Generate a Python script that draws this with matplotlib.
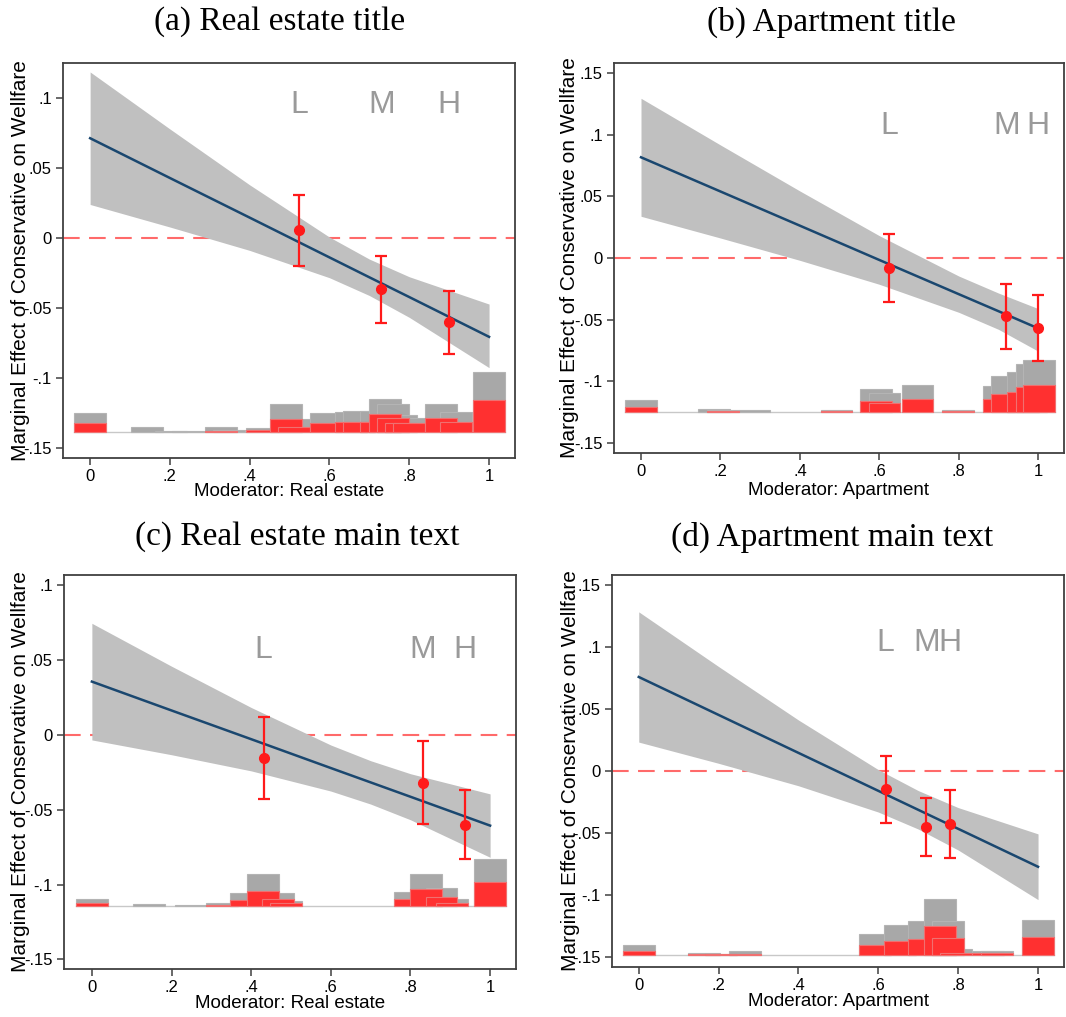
import matplotlib
matplotlib.use("Agg")
import matplotlib.pyplot as plt
import numpy as np

# ---------------- data ----------------
titles = ["(a) Real estate title", "(b) Apartment title",
          "(c) Real estate main text", "(d) Apartment main text"]
xlabels = ["Moderator: Real estate", "Moderator: Apartment",
           "Moderator: Real estate", "Moderator: Apartment"]
ylabel = "Marginal Effect of Conservative on Wellfare"
xticks = [0, 0.2, 0.4, 0.6, 0.8, 1.0]
yticks_a = [-0.15, -0.1, -0.05, 0, 0.05, 0.1]
yticks_b = [-0.15, -0.1, -0.05, 0, 0.05, 0.1, 0.15]
yticks_c = [-0.15, -0.1, -0.05, 0, 0.05, 0.1]
yticks_d = [-0.15, -0.1, -0.05, 0, 0.05, 0.1, 0.15]
bin_labels = ["L", "M", "H"]

# marginal effect line and 95% band
a_grid = [0, 0.2, 0.4, 0.6, 0.7, 0.8, 1.0]
a_line = [0.0713, 0.0429, 0.0146, -0.0138, -0.0280, -0.0421, -0.0705]
a_hi = [0.1186, 0.0779, 0.0380, 0.0007, -0.0150, -0.0276, -0.0471]
a_lo = [0.0240, 0.0079, -0.0088, -0.0283, -0.0410, -0.0566, -0.0925]

b_grid = [0, 0.2, 0.4, 0.6, 0.8, 0.9, 1.0]
b_line = [0.0816, 0.0539, 0.0262, -0.0016, -0.0293, -0.0431, -0.0570]
b_hi = [0.1294, 0.0916, 0.0543, 0.0181, -0.0146, -0.0284, -0.0410]
b_lo = [0.0338, 0.0162, -0.0019, -0.0213, -0.0440, -0.0578, -0.0755]

c_grid = [0, 0.2, 0.4, 0.6, 0.7, 0.8, 1.0]
c_line = [0.0357, 0.0164, -0.0028, -0.0221, -0.0317, -0.0413, -0.0606]
c_hi = [0.0747, 0.0460, 0.0184, -0.0067, -0.0172, -0.0259, -0.0394]
c_lo = [-0.0033, -0.0132, -0.0240, -0.0375, -0.0462, -0.0567, -0.0818]

d_grid = [0, 0.2, 0.4, 0.6, 0.7, 0.8, 1.0]
d_line = [0.0758, 0.0452, 0.0146, -0.0160, -0.0313, -0.0466, -0.0772]
d_hi = [0.1283, 0.0842, 0.0411, 0.0011, -0.0158, -0.0295, -0.0507]
d_lo = [0.0233, 0.0062, -0.0119, -0.0331, -0.0468, -0.0637, -0.1037]

# binned estimates (L, M, H)
a_pt_x = [0.524, 0.730, 0.900]
a_pt_y = [0.0060, -0.0362, -0.0599]
a_pt_hi = [0.0311, -0.0131, -0.0380]
a_pt_lo = [-0.0196, -0.0604, -0.0827]

b_pt_x = [0.625, 0.920, 1.000]
b_pt_y = [-0.0081, -0.0470, -0.0568]
b_pt_hi = [0.0191, -0.0211, -0.0303]
b_pt_lo = [-0.0357, -0.0738, -0.0833]

c_pt_x = [0.431, 0.831, 0.936]
c_pt_y = [-0.0152, -0.0319, -0.0602]
c_pt_hi = [0.0123, -0.0040, -0.0366]
c_pt_lo = [-0.0430, -0.0598, -0.0832]

d_pt_x = [0.618, 0.720, 0.779]
d_pt_y = [-0.0145, -0.0452, -0.0430]
d_pt_hi = [0.0124, -0.0218, -0.0156]
d_pt_lo = [-0.0419, -0.0688, -0.0704]

label_y = [0.095, 0.107, 0.057, 0.103]

# histograms of the moderator (grey = all, red = treated)
a_hist_base = -0.1383
a_hist_x = [0.000, 0.143, 0.203, 0.245, 0.327, 0.349, 0.430, 0.491, 0.512, 0.591,
            0.654, 0.675, 0.717, 0.738, 0.759, 0.779, 0.800, 0.880, 0.917, 1.000]
a_hist_grey = [0.0131, 0.0031, 0.0007, 0.0005, 0.0031, 0.0012, 0.0024, 0.0195, 0.0088, 0.0136,
               0.0143, 0.0148, 0.0148, 0.0233, 0.0198, 0.0119, 0.0102, 0.0202, 0.0140, 0.0426]
a_hist_red = [0.0060, 0.0, 0.0, 0.0, 0.0007, 0.0, 0.0012, 0.0093, 0.0036, 0.0064,
              0.0067, 0.0067, 0.0067, 0.0124, 0.0102, 0.0060, 0.0060, 0.0102, 0.0071, 0.0226]

b_hist_base = -0.1244
b_hist_x = [0.000, 0.183, 0.206, 0.286, 0.492, 0.592, 0.613, 0.696, 0.798, 0.901,
            0.922, 0.962, 0.983, 1.003]
b_hist_grey = [0.0092, 0.0019, 0.0014, 0.0016, 0.0016, 0.0181, 0.0154, 0.0214, 0.0011, 0.0203,
               0.0284, 0.0319, 0.0387, 0.0414]
b_hist_red = [0.0038, 0.0, 0.0008, 0.0, 0.0008, 0.0087, 0.0068, 0.0100, 0.0005, 0.0100,
              0.0141, 0.0162, 0.0195, 0.0211]

c_hist_base = -0.1144
c_hist_x = [0.000, 0.143, 0.248, 0.327, 0.387, 0.429, 0.467, 0.488, 0.798, 0.838,
            0.878, 0.905, 1.000]
c_hist_grey = [0.0049, 0.0011, 0.0004, 0.0018, 0.0089, 0.0212, 0.0089, 0.0036, 0.0091, 0.0212,
               0.0123, 0.0045, 0.0312]
c_hist_red = [0.0022, 0.0, 0.0, 0.0009, 0.0040, 0.0100, 0.0045, 0.0018, 0.0045, 0.0111,
              0.0058, 0.0018, 0.0163]

d_hist_base = -0.1487
d_hist_x = [0.000, 0.164, 0.205, 0.265, 0.591, 0.654, 0.714, 0.754, 0.775, 0.795,
            0.875, 0.897, 1.000]
d_hist_grey = [0.0081, 0.0019, 0.0013, 0.0032, 0.0175, 0.0242, 0.0274, 0.0457, 0.0274, 0.0051,
               0.0038, 0.0038, 0.0285]
d_hist_red = [0.0040, 0.0008, 0.0008, 0.0008, 0.0083, 0.0116, 0.0134, 0.0237, 0.0142, 0.0019,
              0.0016, 0.0016, 0.0145]

# ---------------- layout / style ----------------
W, H = 1066, 1017
boxes = [(63, 63, 515, 458), (614, 63, 1064, 453), (64, 575, 516, 969), (612, 575, 1064, 967)]
xlims = [(-0.068, 1.065), (-0.068, 1.065), (-0.070, 1.065), (-0.067, 1.065)]
ylims = [(-0.157, 0.125), (-0.158, 0.158), (-0.1565, 0.107), (-0.158, 0.158)]
title_pos = [(280, 22), (831, 22), (297, 537), (832, 537)]
xlabel_y = [-0.064, -0.075, -0.067, -0.067]
ylabel_x = [-0.072, -0.078, -0.075, -0.071]

BAND = "#c0c0c0"
LINE = "#1a476f"
PT = "#ff1a1a"
HGREY = "#a8a8a8"
HRED = "#ff3030"
FRAME = "#404040"
BIN_W = 0.08

panels = [
    (a_grid, a_line, a_hi, a_lo, a_pt_x, a_pt_y, a_pt_hi, a_pt_lo,
     a_hist_base, a_hist_x, a_hist_grey, a_hist_red, yticks_a),
    (b_grid, b_line, b_hi, b_lo, b_pt_x, b_pt_y, b_pt_hi, b_pt_lo,
     b_hist_base, b_hist_x, b_hist_grey, b_hist_red, yticks_b),
    (c_grid, c_line, c_hi, c_lo, c_pt_x, c_pt_y, c_pt_hi, c_pt_lo,
     c_hist_base, c_hist_x, c_hist_grey, c_hist_red, yticks_c),
    (d_grid, d_line, d_hi, d_lo, d_pt_x, d_pt_y, d_pt_hi, d_pt_lo,
     d_hist_base, d_hist_x, d_hist_grey, d_hist_red, yticks_d),
]


def fmt(v):
    if abs(v) < 1e-12:
        return "0"
    s = f"{v:g}"
    return s.replace("0.", ".")


plt.rcParams["font.family"] = ["Liberation Sans", "DejaVu Sans"]
fig = plt.figure(figsize=(W / 100, H / 100), dpi=100)

for i, (grid, line, hi, lo, px, py, phi, plo, base, hx, hg, hr, yt) in enumerate(panels):
    l, t, r, b = boxes[i]
    ax = fig.add_axes([l / W, 1 - b / H, (r - l) / W, (b - t) / H])
    ax.set_xlim(*xlims[i])
    ax.set_ylim(*ylims[i])

    # zero reference
    ax.axhline(0, color="#ff6a6a", lw=1.5, ls=(0, (8, 4.5)), zorder=1)

    # histogram
    hx = np.array(hx); hg = np.array(hg); hr = np.array(hr)
    ax.plot([hx.min() - BIN_W / 2, hx.max() + BIN_W / 2], [base, base],
            color="#c8c8c8", lw=1.0, zorder=1.4)
    ax.bar(hx, hg, width=BIN_W, bottom=base, color=HGREY, edgecolor="#b4b4b4",
           linewidth=0.8, zorder=1.5)
    mask = hr > 0
    ax.bar(hx[mask], hr[mask], width=BIN_W, bottom=base, color=HRED,
           edgecolor="#f07070", linewidth=0.8, zorder=1.6)

    # band and line
    ax.fill_between(grid, lo, hi, color=BAND, lw=0, zorder=2)
    ax.plot(grid, line, color=LINE, lw=1.8, zorder=3)

    # binned estimates
    py = np.array(py)
    ax.errorbar(px, py, yerr=[py - np.array(plo), np.array(phi) - py], fmt="o",
                color=PT, ms=7, capsize=4, elinewidth=1.6, capthick=1.6, zorder=4)
    for lab, xx in zip(bin_labels, px):
        ax.text(xx, label_y[i], lab, color="#9a9a9a", fontsize=23,
                ha="center", va="center", zorder=5)

    # axes styling
    ax.set_xticks(xticks)
    ax.set_xticklabels([fmt(v) for v in xticks], fontsize=12)
    ax.set_yticks(yt)
    ax.set_yticklabels([fmt(v) for v in yt], fontsize=12)
    ax.tick_params(direction="out", length=5, width=1.1, color=FRAME, pad=3)
    for s in ax.spines.values():
        s.set_color(FRAME)
        s.set_linewidth(1.3)
    ax.set_xlabel(xlabels[i], fontsize=13.5)
    ax.set_ylabel(ylabel, fontsize=15)
    ax.xaxis.set_label_coords(0.5, xlabel_y[i])
    ax.yaxis.set_label_coords(ylabel_x[i], 0.5)

    tx, ty = title_pos[i]
    fig.text(tx / W, 1 - ty / H, titles[i], family="Liberation Serif",
             fontsize=24, ha="center", va="center")

fig.savefig("out.png", dpi=100)
